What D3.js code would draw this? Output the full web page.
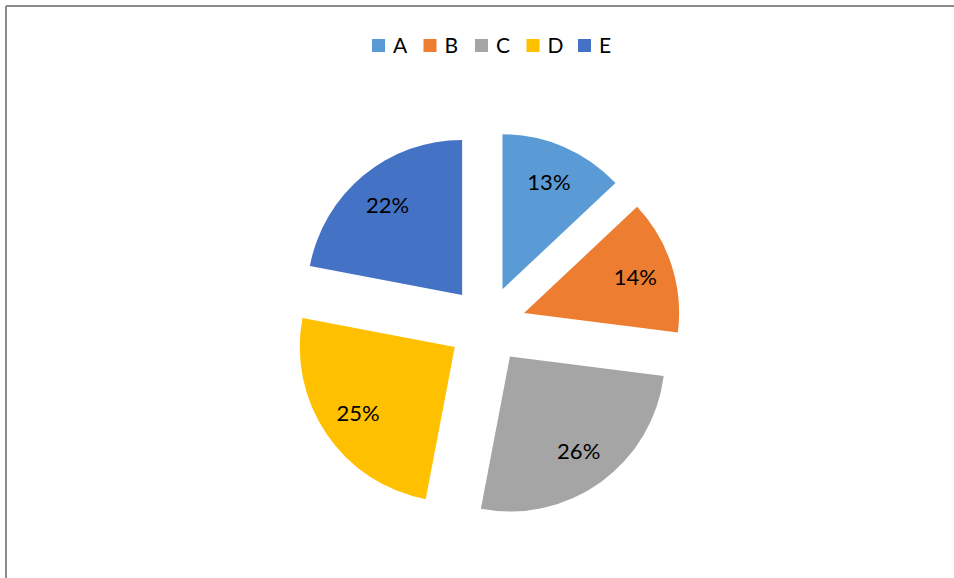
<!DOCTYPE html>
<html>
<head>
<meta charset="utf-8">
<script src="https://cdn.jsdelivr.net/npm/d3@7"></script>
<style>
  html, body { margin: 0; padding: 0; background: #fff; }
  svg { display: block; font-family: Lato, "Open Sans", "DejaVu Sans", sans-serif; }
</style>
</head>
<body>
<svg id="chart" width="954" height="578"></svg>
<script>
// Share of each category (percent)
const categories = ["A", "B", "C", "D", "E"];
const values = [13, 14, 26, 25, 22];
const colors = ["#5b9bd5", "#ed7d31", "#a5a5a5", "#ffc000", "#4472c4"];

const width = 954, height = 578;
const svg = d3.select("#chart");

// Chart frame (top and left edge visible)
svg.append("line").attr("x1", 6).attr("y1", 6).attr("x2", width).attr("y2", 6)
  .attr("stroke", "#8c8c8c").attr("stroke-width", 2);
svg.append("line").attr("x1", 6).attr("y1", 6).attr("x2", 6).attr("y2", height)
  .attr("stroke", "#8c8c8c").attr("stroke-width", 2);

// Legend
const color = d3.scaleOrdinal().domain(categories).range(colors);
const legendX = d3.scalePoint().domain(categories).range([372, 578]);
const legend = svg.append("g").selectAll("g").data(categories).join("g")
  .attr("transform", d => `translate(${legendX(d)},39)`);
legend.append("rect").attr("width", 13).attr("height", 13).attr("fill", d => color(d));
legend.append("text").attr("x", 21).attr("y", 14)
  .attr("font-size", 21).attr("fill", "#000").text(d => d);

// Exploded pie
const cx = 487, cy = 325, radius = 155, explode = 39;
const pie = d3.pie().sort(null).value(d => d.value);
const arcs = pie(categories.map((c, i) => ({ cat: c, value: values[i] })));
const arc = d3.arc().innerRadius(0).outerRadius(radius);
const total = d3.sum(values);

const slices = svg.append("g").attr("transform", `translate(${cx},${cy})`)
  .selectAll("g").data(arcs).join("g")
  .attr("transform", d => {
    const a = (d.startAngle + d.endAngle) / 2;
    return `translate(${explode * Math.sin(a)},${-explode * Math.cos(a)})`;
  });

slices.append("path").attr("d", arc).attr("fill", d => color(d.data.cat));

const labelR = 117;
slices.append("text")
  .attr("x", d => labelR * Math.sin((d.startAngle + d.endAngle) / 2))
  .attr("y", d => -labelR * Math.cos((d.startAngle + d.endAngle) / 2))
  .attr("text-anchor", "middle").attr("dy", "0.36em")
  .attr("font-size", 22).attr("fill", "#000")
  .text(d => Math.round(d.data.value / total * 100) + "%");
</script>
</body>
</html>
